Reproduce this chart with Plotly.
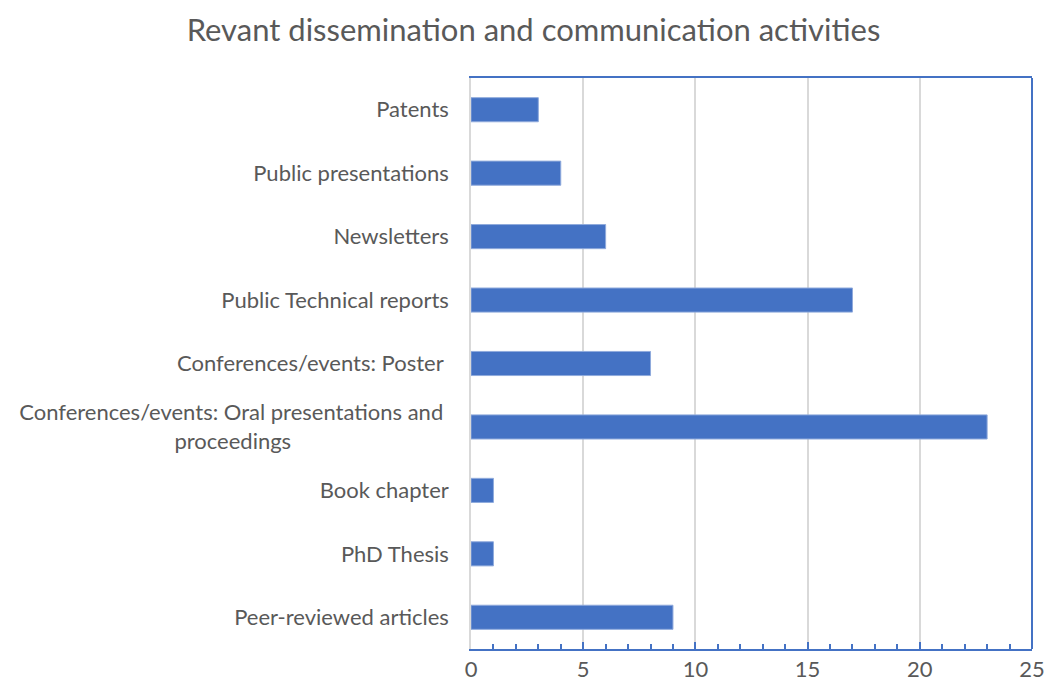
import plotly.graph_objects as go

categories = [
    "Peer-reviewed articles",
    "PhD Thesis",
    "Book chapter",
    "Conferences/events: Oral presentations and\u00a0<br>proceedings" + "\u00a0" * 28,
    "Conferences/events: Poster\u00a0",
    "Public Technical reports",
    "Newsletters",
    "Public presentations",
    "Patents",
]
values = [9, 1, 1, 23, 8, 17, 6, 4, 3]
x_ticks = [0, 5, 10, 15, 20, 25]

BLUE = "#4472C4"
GREY_TXT = "#595959"
GRID = "#D9D9D9"
FONT = "Lato"

fig = go.Figure(go.Bar(
    x=values, y=categories, orientation="h",
    marker=dict(color=BLUE, line=dict(color="#8FAADC", width=1)),
    width=0.38,
))

fig.update_layout(
    width=1046, height=684,
    paper_bgcolor="white", plot_bgcolor="white",
    margin=dict(l=471, r=14, t=78, b=35),
    title=dict(text="Revant dissemination and communication activities",
               x=533.5 / 1046, xanchor="center", y=1 - 30 / 684, yanchor="middle",
               font=dict(family=FONT, size=31, color=GREY_TXT)),
    font=dict(family=FONT, size=22, color=GREY_TXT),
    showlegend=False,
)
fig.update_xaxes(
    range=[0, 25], tickvals=x_ticks, showgrid=True, gridcolor=GRID, gridwidth=1.5,
    zeroline=False, showline=True, linecolor=BLUE, linewidth=2, mirror=True,
    ticks="inside", ticklen=7, tickcolor=BLUE, tickwidth=2,
    minor=dict(dtick=1, ticks="inside", ticklen=5, tickcolor=BLUE, tickwidth=2, showgrid=False),
    tickfont=dict(size=22, color=GREY_TXT), ticklabelstandoff=0, automargin=False,
)
fig.update_yaxes(
    categoryorder="array", categoryarray=categories,
    showgrid=False, zeroline=False, showline=True, linecolor=GRID, linewidth=1.5,
    ticks="", ticklabelstandoff=16, automargin=False,
    tickfont=dict(size=22, color=GREY_TXT),
)
fig.add_shape(type="line", xref="paper", yref="paper", x0=1, x1=1, y0=0, y1=1,
              line=dict(color=BLUE, width=2))

fig.write_html(
    "out.html",
    config={"displayModeBar": False},
    post_script="document.body.style.margin='0';document.body.style.overflow='hidden';",
)
